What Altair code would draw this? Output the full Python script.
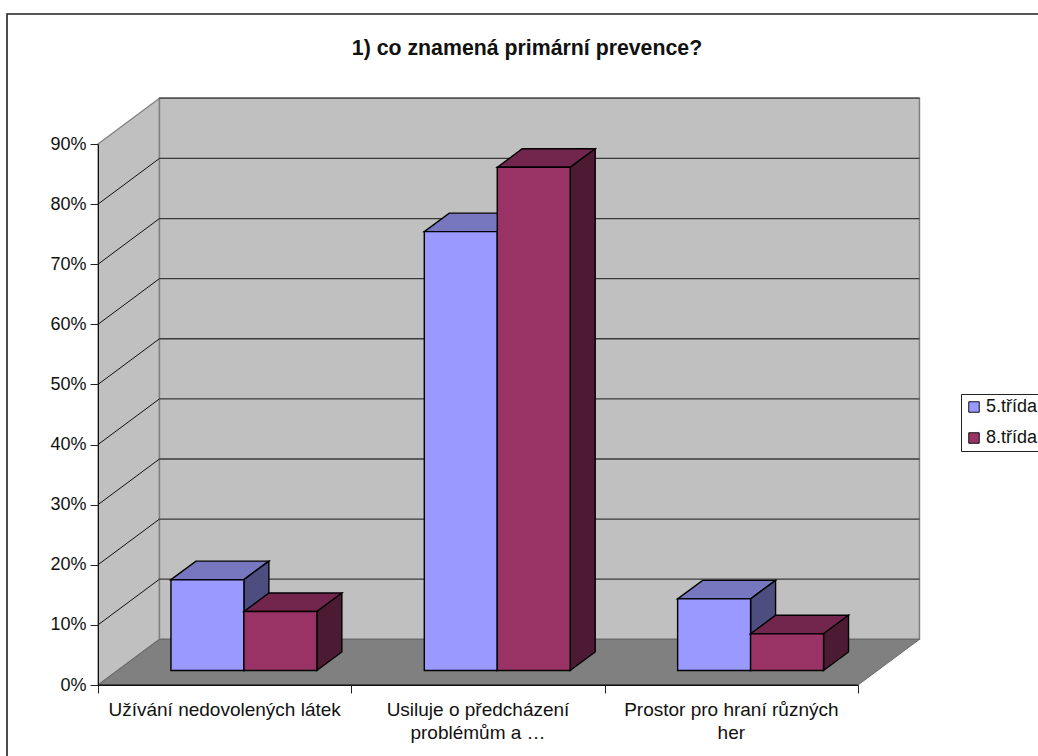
import altair as alt
import pandas as pd

# Survey shares per answer, in percent
categories = ["Užívání nedovolených látek", "Usiluje o předcházení\nproblémům a …", "Prostor pro hraní různých\nher"]
series_names = ["5.třída", "8.třída"]
grade5 = [15.1, 73.0, 11.9]
grade8 = [9.8, 83.7, 6.1]
y_ticks = [0, 10, 20, 30, 40, 50, 60, 70, 80, 90]
x_ticks = [0, 1, 2, 3]

front_colors = ["#9999FF", "#993366"]
top_colors = ["#7777BF", "#73264D"]
side_colors = ["#4D4D80", "#4D1A33"]

# Oblique projection: depth expressed in axis units
WALL_DX, WALL_DY = 0.2426, 7.6
BAR_BASE_DX, BAR_BASE_DY = 0.076, 2.42
BAR_DX, BAR_DY = 0.0986, 3.08
BAR_INSET, BAR_W = 0.212, 0.288
Y_MAX = y_ticks[-1]
N = len(categories)

sx = alt.Scale(domain=[0, N], nice=False, zero=False)
sy = alt.Scale(domain=[0, Y_MAX], nice=False, zero=False)
x_axis = alt.Axis(values=x_ticks, labels=False, tickSize=8, tickColor="#222222",
                  domainColor="#111111", grid=False, zindex=1, title=None)
y_axis = alt.Axis(values=y_ticks, labelExpr="datum.value + '%'", tickSize=8,
                  tickColor="#222222", domainColor="#111111", grid=False,
                  labelPadding=4, labelFontSize=18, labelColor="#111111",
                  labelFont="Liberation Sans", zindex=1, title=None)


def enc_x(field="x"):
    return alt.X(f"{field}:Q", scale=sx, axis=x_axis)


def enc_y(field="y"):
    return alt.Y(f"{field}:Q", scale=sy, axis=y_axis)


def area_layer(rows, fill, stroke, width=1.0):
    """Filled polygon described by its upper and lower edge over x."""
    return (
        alt.Chart(pd.DataFrame(rows))
        .mark_area(fill=fill, stroke=stroke, strokeWidth=width, opacity=1)
        .encode(enc_x(), enc_y(), y2="y2:Q", detail="g:N")
    )


def poly(g, pts):
    return [{"g": g, "x": p[0], "y": p[1], "y2": p[2]} for p in pts]


# Outer frame of the chart object
frame = alt.Chart(pd.DataFrame({"a": [0]})).mark_rect(
    fill="white", stroke="#222222", strokeWidth=1.6
).encode(x=alt.value(-91), x2=alt.value(1100), y=alt.value(-130), y2=alt.value(800))

# Walls and floor
left_wall = area_layer(
    poly("w", [(0, Y_MAX, 0), (WALL_DX, Y_MAX + WALL_DY, WALL_DY)]), "#C0C0C0", "#808080", 1.3
)
back_wall = area_layer(
    poly("b", [(WALL_DX, Y_MAX + WALL_DY, WALL_DY), (N + WALL_DX, Y_MAX + WALL_DY, WALL_DY)]),
    "#C0C0C0", "#808080", 1.5,
)
floor = area_layer(
    poly("f", [(0, 0, 0), (WALL_DX, WALL_DY, 0), (N, WALL_DY, 0), (N + WALL_DX, WALL_DY, WALL_DY)]),
    "#808080", "#666666", 1.0,
)

# Gridlines run along the back wall and fold forward on the left wall
grid_back = pd.DataFrame(
    [{"g": v, "x": WALL_DX, "y": v + WALL_DY} for v in y_ticks[1:]]
    + [{"g": v, "x": N + WALL_DX, "y": v + WALL_DY} for v in y_ticks[1:]]
)
grid_left = pd.DataFrame(
    [{"g": v, "x": 0, "y": v} for v in y_ticks[1:-1]]
    + [{"g": v, "x": WALL_DX, "y": v + WALL_DY} for v in y_ticks[1:-1]]
)
grid_b = alt.Chart(grid_back).mark_line(color="#3a3a3a", strokeWidth=1.3).encode(enc_x(), enc_y(), detail="g:N")
grid_l = alt.Chart(grid_left).mark_line(color="#111111", strokeWidth=1).encode(enc_x(), enc_y(), detail="g:N")
top_edge = alt.Chart(grid_back[grid_back.g == Y_MAX]).mark_line(color="#555555", strokeWidth=1.5).encode(enc_x(), enc_y())
floor_front = alt.Chart(pd.DataFrame({"x": [0, N], "y": [0, 0]})).mark_line(color="#111111", strokeWidth=1.2).encode(enc_x(), enc_y())

# Boxes: tops and sides of one series, then its fronts, so the next series overlaps it
layers = []
for s, values in enumerate([grade5, grade8]):
    top_rows, side_rows, front_rows = [], [], []
    for c, v in enumerate(values):
        x0 = c + BAR_BASE_DX + BAR_INSET + s * BAR_W
        x1 = x0 + BAR_W
        y0 = BAR_BASE_DY
        y1 = y0 + v
        top_rows += poly(c, [(x0, y1, y1), (x0 + BAR_DX, y1 + BAR_DY, y1), (x1, y1 + BAR_DY, y1),
                             (x1 + BAR_DX, y1 + BAR_DY, y1 + BAR_DY)])
        side_rows += poly(c, [(x1, y1, y0), (x1 + BAR_DX, y1 + BAR_DY, y0 + BAR_DY)])
        front_rows.append({"x": x0, "x2": x1, "y": y0, "y2": y1, "series": series_names[s]})
    layers.append(area_layer(top_rows, top_colors[s], "#000000", 1.4))
    layers.append(area_layer(side_rows, side_colors[s], "#000000", 1.4))
    layers.append(
        alt.Chart(pd.DataFrame(front_rows))
        .mark_rect(stroke="#000000", strokeWidth=1.4)
        .encode(
            enc_x(), x2="x2:Q", y=enc_y(), y2="y2:Q",
            color=alt.Color(
                "series:N",
                scale=alt.Scale(domain=series_names, range=front_colors),
                legend=alt.Legend(
                    title=None, orient="none", legendX=863, legendY=250,
                    fillColor="white", strokeColor="#222222", padding=4,
                    symbolType="square", symbolSize=110, symbolStrokeColor="#111111",
                    symbolStrokeWidth=1, labelFontSize=18, labelColor="#111111",
                    labelFont="Liberation Sans", rowPadding=13, labelOffset=3,
                ),
            ),
        )
    )

# Category labels centred under their axis slots
labels = alt.Chart(pd.DataFrame({"x": [i + 0.5 for i in range(N)], "label": categories})).mark_text(
    lineBreak="\n", lineHeight=23, baseline="alphabetic", align="center",
    font="Liberation Sans", fontSize=19, color="#111111",
).encode(enc_x(), y=alt.value(572), text="label:N")

chart = alt.layer(
    frame, left_wall, back_wall, floor, grid_b, grid_l, top_edge, floor_front, *layers, labels
).properties(
    width=760,
    height=541,
    padding={"left": 98, "top": 144, "right": 180, "bottom": 71},
    autosize=alt.AutoSizeParams(type="none"),
    title=alt.TitleParams(
        "1) co znamená primární prevence?",
        anchor="middle", frame="group", dx=49, offset=-63, baseline="alphabetic",
        font="Liberation Sans", fontSize=21.3, fontWeight="bold", color="#111111",
    ),
).configure_view(stroke=None)

chart.save("out.html", embed_options={"renderer": "svg", "actions": False})
